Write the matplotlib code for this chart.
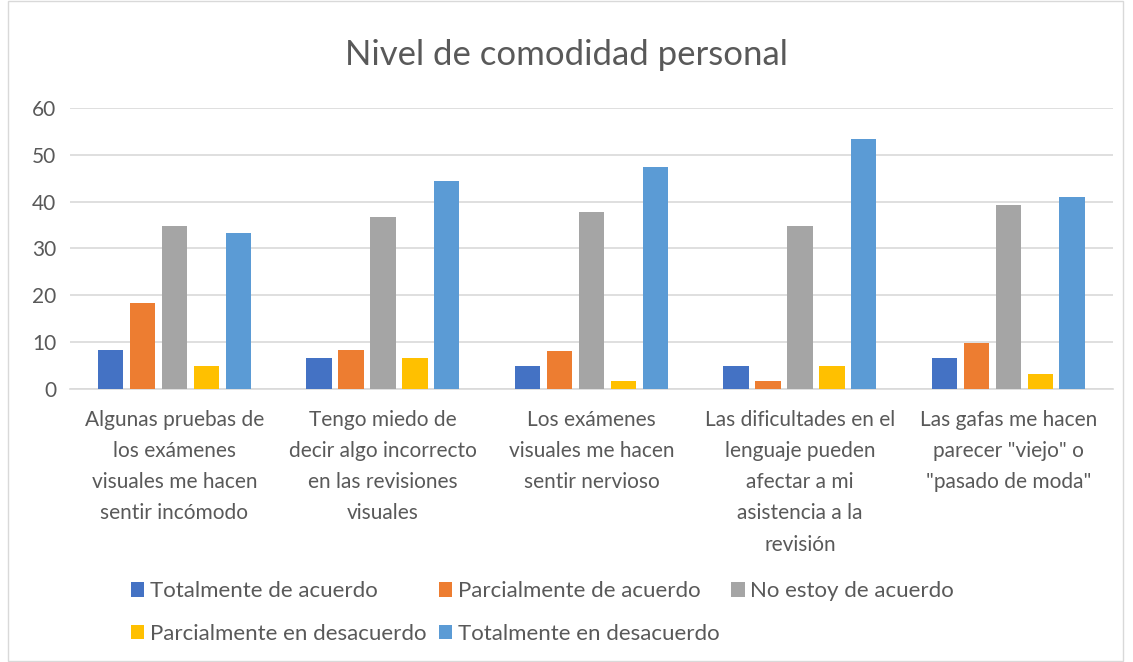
import numpy as np
import matplotlib.pyplot as plt
from matplotlib.patches import Rectangle

plt.rcParams['font.family'] = ['Lato', 'DejaVu Sans']

# Data
categorias = [
    "Algunas pruebas de\nlos exámenes\nvisuales me hacen\nsentir incómodo",
    "Tengo miedo de\ndecir algo incorrecto\nen las revisiones\nvisuales",
    "Los exámenes\nvisuales me hacen\nsentir nervioso",
    "Las dificultades en el\nlenguaje pueden\nafectar a mi\nasistencia a la\nrevisión",
    "Las gafas me hacen\nparecer \"viejo\" o\n\"pasado de moda\"",
]
series = [
    "Totalmente de acuerdo",
    "Parcialmente de acuerdo",
    "No estoy de acuerdo",
    "Parcialmente en desacuerdo",
    "Totalmente en desacuerdo",
]
totalmente_acuerdo = [8.3, 6.7, 5.0, 5.0, 6.6]
parcialmente_acuerdo = [18.3, 8.3, 8.1, 1.6, 9.8]
no_acuerdo = [34.9, 36.7, 37.7, 34.9, 39.3]
parcialmente_desacuerdo = [5.0, 6.7, 1.6, 5.0, 3.2]
totalmente_desacuerdo = [33.3, 44.5, 47.5, 53.3, 41.0]
valores = [totalmente_acuerdo, parcialmente_acuerdo, no_acuerdo,
           parcialmente_desacuerdo, totalmente_desacuerdo]
colores = ['#4472C4', '#ED7D31', '#A5A5A5', '#FFC000', '#5B9BD5']
texto = '#595959'

fig = plt.figure(figsize=(11.33, 6.62), dpi=100)
ax = fig.add_axes([0.062, 0.4124, 0.92, 0.4245])

x = np.arange(len(categorias))
paso = 0.153
ancho = 0.122
barras = []
for i, (vals, col) in enumerate(zip(valores, colores)):
    b = ax.bar(x + (i - 2) * paso, vals, ancho, color=col, label=series[i], zorder=3)
    barras.append(b)

ax.set_xlim(-0.5, len(categorias) - 0.5)
ax.set_ylim(0, 60)
ax.set_yticks(range(0, 61, 10))
ax.yaxis.grid(True, color='#D9D9D9', linewidth=1.2, zorder=0)
for s in ['top', 'right', 'left']:
    ax.spines[s].set_visible(False)
ax.spines['bottom'].set_color('#D9D9D9')
ax.spines['bottom'].set_linewidth(1.2)
ax.tick_params(axis='both', length=0, colors=texto, labelsize=15)
ax.tick_params(axis='y', pad=10)
ax.set_xticks(x)
ax.set_xticklabels(categorias, linespacing=1.7, va='top')
ax.tick_params(axis='x', pad=15)

fig.text(0.5, 0.917, "Nivel de comodidad personal", ha='center', va='center',
         fontsize=25, color=texto)

# legend: row-wise order for 3 columns
orden = [0, 3, 1, 4, 2]
ley = fig.legend([barras[i] for i in orden], [series[i] for i in orden],
                 ncol=3, loc='upper left', bbox_to_anchor=(0.098, 0.152),
                 frameon=False, fontsize=16, handlelength=0.6, handleheight=0.6,
                 handletextpad=0.25, columnspacing=0.55, labelspacing=1.0,
                 labelcolor=texto)

fig.patches.append(Rectangle((8 / 1133, 0.002), 1115 / 1133, 0.996,
                             transform=fig.transFigure, fill=False,
                             edgecolor='#D9D9D9', linewidth=1))

fig.savefig('out.png', dpi=100)
